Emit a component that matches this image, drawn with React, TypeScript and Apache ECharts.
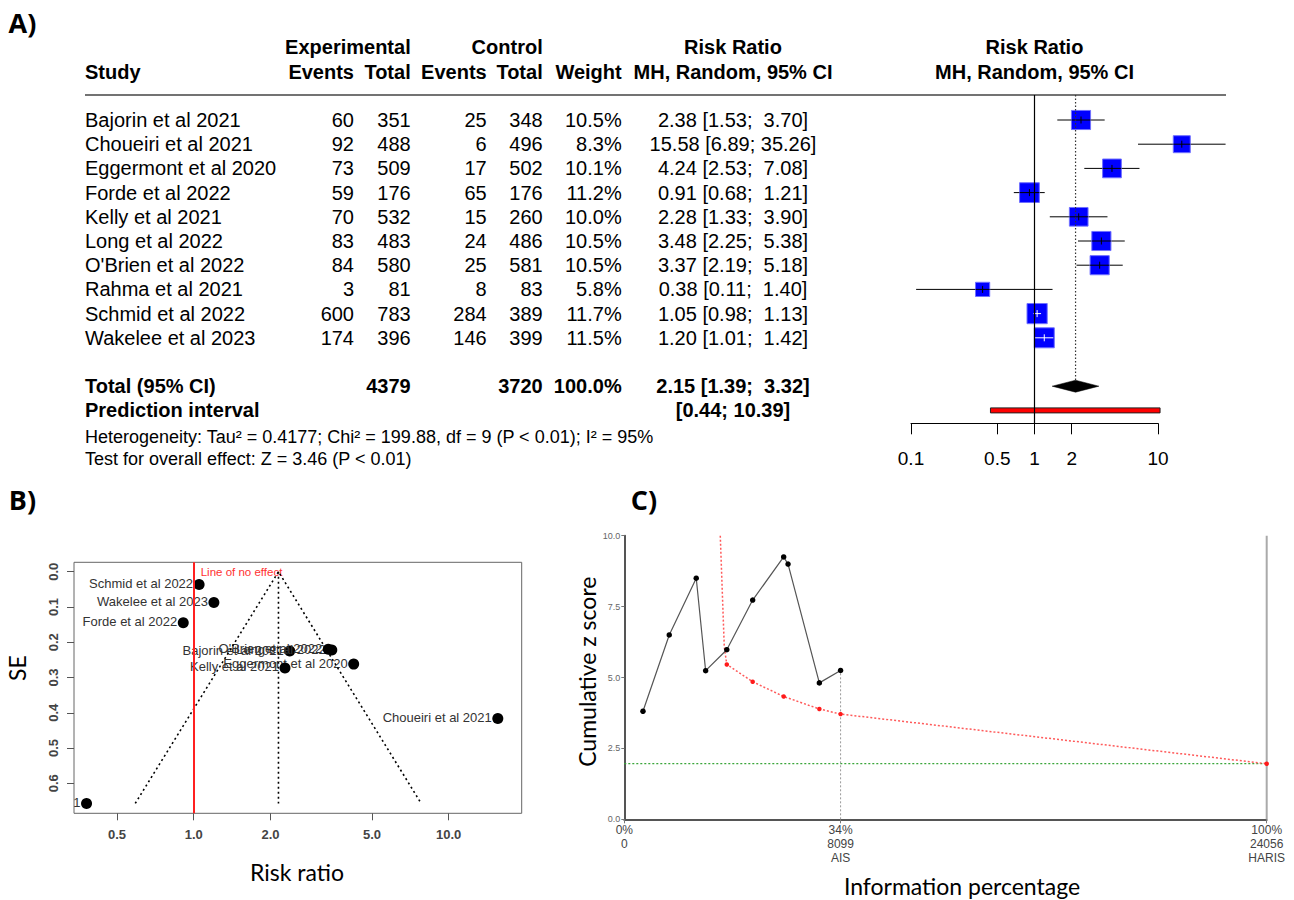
import React, { useEffect, useRef } from "react";
import * as echarts from "echarts";

// ---------- DATA ----------
const studies = [
  "Bajorin et al 2021",
  "Choueiri et al 2021",
  "Eggermont et al 2020",
  "Forde et al 2022",
  "Kelly et al 2021",
  "Long et al 2022",
  "O'Brien et al 2022",
  "Rahma et al 2021",
  "Schmid et al 2022",
  "Wakelee et al 2023",
];
const expEvents = [60, 92, 73, 59, 70, 83, 84, 3, 600, 174];
const expTotal = [351, 488, 509, 176, 532, 483, 580, 81, 783, 396];
const ctrlEvents = [25, 6, 17, 65, 15, 24, 25, 8, 284, 146];
const ctrlTotal = [348, 496, 502, 176, 260, 486, 581, 83, 389, 399];
const weights = [10.5, 8.3, 10.1, 11.2, 10.0, 10.5, 10.5, 5.8, 11.7, 11.5];
const riskRatio = [2.38, 15.58, 4.24, 0.91, 2.28, 3.48, 3.37, 0.38, 1.05, 1.2];
const ciLower = [1.53, 6.89, 2.53, 0.68, 1.33, 2.25, 2.19, 0.11, 0.98, 1.01];
const ciUpper = [3.7, 35.26, 7.08, 1.21, 3.9, 5.38, 5.18, 1.4, 1.13, 1.42];
const totalExp = 4379;
const totalCtrl = 3720;
const pooled = [2.15, 1.39, 3.32]; // RR, lower, upper
const predInterval = [0.44, 10.39];
const heterogeneityText =
  "Heterogeneity: Tau\u00B2 = 0.4177; Chi\u00B2 = 199.88, df = 9 (P < 0.01); I\u00B2 = 95%";
const overallText = "Test for overall effect: Z = 3.46 (P < 0.01)";
const forestTicks = [0.1, 0.5, 1, 2, 10];

// funnel plot (B)
const funnelSE = [0.225, 0.416, 0.262, 0.145, 0.273, 0.222, 0.22, 0.657, 0.036, 0.087];
const funnelXTicks = [0.5, 1, 2, 5, 10];
const funnelYTicks = [0, 0.1, 0.2, 0.3, 0.4, 0.5, 0.6];
const funnelLimitRR = [0.59, 2.15, 7.8]; // lower limit, pooled, upper limit
const funnelLimitSE = [0.657, 0, 0.657];

// trial sequential analysis (C)
const tsaN = [699, 1683, 2694, 3046, 3838, 4807, 5968, 6132, 7304, 8099];
const tsaZ = [3.81, 6.5, 8.5, 5.24, 5.98, 7.73, 9.25, 9.0, 4.81, 5.25];
const boundaryN = [3594, 3744, 3838, 4807, 5968, 7304, 8099, 24056];
const boundaryZ = [10, 6.08, 5.46, 4.85, 4.33, 3.89, 3.71, 1.96];
const boundaryMarked = [false, false, true, true, true, true, true, true];
const conventionalZ = 1.96;
const requiredN = 24056;
const accruedN = 8099;
const tsaXTicks = [0, 8099, 24056];
const tsaXPct = ["0%", "34%", "100%"];
const tsaXName = ["", "AIS", "HARIS"];
const tsaYTicks = [0, 2.5, 5, 7.5, 10];

// ---------- LAYOUT ----------
const RF = "Liberation Sans";
const TF = "Lato";
const lg = (v: number) => Math.log10(v);
const rowY = (i: number) => 120 + 24.2 * i;
const FOREST_YMIN = -25 / 24.2;
const FOREST_YMAX = 328.3 / 24.2 - 25 / 24.2;

const NB = "\u00A0";
const ciText = (r: number, l: number, u: number) =>
  `${r.toFixed(2)} [${l.toFixed(2)}; ${u.toFixed(2).padStart(5, NB)}]`;

function T(
  text: string,
  x: number,
  y: number,
  align: string,
  opt: any = {}
): any {
  return {
    type: "text",
    x,
    y,
    rotation: opt.rotation || 0,
    silent: true,
    style: {
      text,
      align,
      textAlign: align,
      verticalAlign: "middle",
      textVerticalAlign: "middle",
      fontSize: opt.size || 20,
      fontFamily: opt.family || RF,
      fontWeight: opt.bold ? "bold" : "normal",
      fill: opt.color || "#000",
    },
  };
}

function buildGraphics(): any[] {
  const g: any[] = [];
  g.push(T("A)", 22.5, 22.5, "center", { size: 27, bold: true, family: "Open Sans" }));
  g.push(T("B)", 22.5, 499, "center", { size: 27, bold: true, family: "Open Sans" }));
  g.push(T("C)", 644, 499, "center", { size: 27, bold: true, family: "Open Sans" }));

  const h1 = 46.7;
  const h2 = 71.7;
  g.push(T("Experimental", 410.7, h1, "right", { bold: true }));
  g.push(T("Control", 542.7, h1, "right", { bold: true }));
  g.push(T("Risk Ratio", 733, h1, "center", { bold: true }));
  g.push(T("Risk Ratio", 1034.5, h1, "center", { bold: true }));
  g.push(T("Study", 85, h2, "left", { bold: true }));
  g.push(T("Events", 354, h2, "right", { bold: true }));
  g.push(T("Total", 410.7, h2, "right", { bold: true }));
  g.push(T("Events", 486.7, h2, "right", { bold: true }));
  g.push(T("Total", 542.7, h2, "right", { bold: true }));
  g.push(T("Weight", 621.7, h2, "right", { bold: true }));
  g.push(T("MH, Random, 95% CI", 733, h2, "center", { bold: true }));
  g.push(T("MH, Random, 95% CI", 1034.5, h2, "center", { bold: true }));
  g.push({
    type: "line",
    silent: true,
    shape: { x1: 85, y1: 95, x2: 1226, y2: 95 },
    style: { stroke: "#444", lineWidth: 1.5 },
  });

  studies.forEach((s, i) => {
    const y = rowY(i);
    g.push(T(s, 85, y, "left"));
    g.push(T(String(expEvents[i]), 354, y, "right"));
    g.push(T(String(expTotal[i]), 410.7, y, "right"));
    g.push(T(String(ctrlEvents[i]), 486.7, y, "right"));
    g.push(T(String(ctrlTotal[i]), 542.7, y, "right"));
    g.push(T(weights[i].toFixed(1) + "%", 621.7, y, "right"));
    g.push(T(ciText(riskRatio[i], ciLower[i], ciUpper[i]), 733, y, "center"));
  });
  const ty = rowY(11);
  g.push(T("Total (95% CI)", 85, ty, "left", { bold: true }));
  g.push(T(String(totalExp), 410.7, ty, "right", { bold: true }));
  g.push(T(String(totalCtrl), 542.7, ty, "right", { bold: true }));
  g.push(T("100.0%", 621.7, ty, "right", { bold: true }));
  g.push(T(ciText(pooled[0], pooled[1], pooled[2]), 733, ty, "center", { bold: true }));
  const py = rowY(12);
  g.push(T("Prediction interval", 85, py, "left", { bold: true }));
  g.push(
    T(`[${predInterval[0].toFixed(2)}; ${predInterval[1].toFixed(2)}]`, 733, py, "center", {
      bold: true,
    })
  );
  g.push(T(heterogeneityText, 85, 436.7, "left", { size: 18 }));
  g.push(T(overallText, 85, 459.3, "left", { size: 18 }));

  // axis titles for B and C
  g.push(T("SE", 17, 668, "center", { size: 23, family: TF, rotation: Math.PI / 2 }));
  g.push(T("Risk ratio", 297, 872, "center", { size: 23, family: TF }));
  g.push(
    T("Cumulative z score", 586.7, 671.7, "center", { size: 23, family: TF, rotation: Math.PI / 2 })
  );
  g.push(T("Information percentage", 962, 886, "center", { size: 23, family: TF }));
  return g;
}

function buildOption(): any {
  const forestData = studies.map((_, i) => [
    lg(riskRatio[i]),
    i,
    lg(ciLower[i]),
    lg(ciUpper[i]),
    weights[i],
  ]);
  const summaryData = [
    [lg(pooled[0]), 11, lg(pooled[1]), lg(pooled[2]), 12, lg(predInterval[0]), lg(predInterval[1])],
  ];
  const funnelData = studies.map((_, i) => [lg(riskRatio[i]), funnelSE[i], i]);

  return {
    animation: false,
    backgroundColor: "#fff",
    graphic: { elements: buildGraphics() },
    grid: [
      { left: 911, right: 136, top: 95, bottom: 476.7, show: false },
      {
        left: 74,
        right: 772.3,
        top: 562.3,
        bottom: 86.7,
        show: true,
        borderColor: "#666",
        borderWidth: 1,
        backgroundColor: "transparent",
      },
      { left: 624.3, right: 27.3, top: 535.7, bottom: 80.7, show: false },
    ],
    xAxis: [
      {
        gridIndex: 0,
        type: "value",
        position: "bottom",
        min: -1,
        max: 1,
        axisLine: { show: true, onZero: false, lineStyle: { color: "#000", width: 1 } },
        axisTick: {
          show: true,
          customValues: forestTicks.map(lg),
          length: 11,
          lineStyle: { color: "#000", width: 1 },
        },
        axisLabel: {
          customValues: forestTicks.map(lg),
          formatter: (v: number) => String(Number(Math.pow(10, v).toPrecision(3))),
          fontSize: 19,
          fontFamily: RF,
          color: "#000",
          margin: 26,
        },
        splitLine: { show: false },
      },
      {
        gridIndex: 1,
        type: "value",
        position: "bottom",
        min: -0.4694,
        max: 1.2863,
        axisLine: { show: false, onZero: false },
        axisTick: {
          show: true,
          customValues: funnelXTicks.map(lg),
          length: 7,
          lineStyle: { color: "#555" },
        },
        axisLabel: {
          customValues: funnelXTicks.map(lg),
          formatter: (v: number) => Math.pow(10, v).toFixed(1),
          fontSize: 13,
          fontWeight: "bold",
          fontFamily: RF,
          color: "#444",
          margin: 15,
        },
        splitLine: { show: false },
      },
      {
        gridIndex: 2,
        type: "value",
        position: "bottom",
        min: 0,
        max: requiredN,
        axisLine: { show: true, onZero: false, lineStyle: { color: "#555", width: 2 } },
        axisTick: {
          show: true,
          customValues: tsaXTicks,
          length: 4,
          lineStyle: { color: "#777" },
        },
        axisLabel: {
          customValues: tsaXTicks,
          formatter: (v: number) => {
            const i = tsaXTicks.indexOf(v);
            const parts = [tsaXPct[i], String(v)];
            if (tsaXName[i]) parts.push(tsaXName[i]);
            return parts.join("\n");
          },
          fontSize: 12,
          lineHeight: 13.7,
          fontFamily: RF,
          color: "#444",
          margin: 4,
        },
        splitLine: { show: false },
      },
    ],
    yAxis: [
      {
        gridIndex: 0,
        type: "value",
        inverse: true,
        min: FOREST_YMIN,
        max: FOREST_YMAX,
        show: false,
      },
      {
        gridIndex: 1,
        type: "value",
        position: "left",
        inverse: true,
        min: -0.0267,
        max: 0.685,
        axisLine: { show: false, onZero: false },
        axisTick: {
          show: true,
          customValues: funnelYTicks,
          length: 7,
          lineStyle: { color: "#555" },
        },
        axisLabel: {
          customValues: funnelYTicks,
          formatter: (v: number) => v.toFixed(1),
          rotate: 90,
          fontSize: 13,
          fontWeight: "bold",
          fontFamily: RF,
          color: "#444",
          margin: 14,
        },
        splitLine: { show: false },
      },
      {
        gridIndex: 2,
        type: "value",
        position: "left",
        min: 0,
        max: 10,
        interval: 2.5,
        axisLine: { show: true, onZero: false, lineStyle: { color: "#555", width: 2 } },
        axisTick: { show: true, length: 3, lineStyle: { color: "#777" } },
        axisLabel: {
          customValues: tsaYTicks,
          formatter: (v: number) => v.toFixed(1),
          fontSize: 9,
          fontFamily: RF,
          color: "#666",
          margin: 4,
        },
        splitLine: { show: false },
      },
    ],
    series: [
      // ---- A: forest study rows ----
      {
        type: "custom",
        xAxisIndex: 0,
        yAxisIndex: 0,
        clip: false,
        silent: true,
        data: forestData,
        renderItem: (params: any, api: any) => {
          const y = api.value(1);
          const c = api.coord([api.value(0), y]);
          const l = api.coord([api.value(2), y]);
          const u = api.coord([api.value(3), y]);
          const s = 5.9 * Math.sqrt(api.value(4));
          const h = s / 2;
          const inside = l[0] >= c[0] - h - 0.5 && u[0] <= c[0] + h + 0.5;
          const inner = inside ? "#fff" : "#000";
          return {
            type: "group",
            children: [
              {
                type: "line",
                shape: { x1: l[0], y1: c[1], x2: u[0], y2: c[1] },
                style: { stroke: "#000", lineWidth: 1 },
              },
              {
                type: "rect",
                shape: { x: c[0] - h, y: c[1] - h, width: s, height: s },
                style: { fill: "#0000ff", stroke: "#7070ff", lineWidth: 1 },
              },
              {
                type: "line",
                shape: {
                  x1: Math.max(l[0], c[0] - h),
                  y1: c[1],
                  x2: Math.min(u[0], c[0] + h),
                  y2: c[1],
                },
                style: { stroke: inner, lineWidth: 1 },
              },
              {
                type: "line",
                shape: { x1: c[0], y1: c[1] - 3.5, x2: c[0], y2: c[1] + 3.5 },
                style: { stroke: inner, lineWidth: 1 },
              },
            ],
          };
        },
        markLine: {
          silent: true,
          symbol: "none",
          label: { show: false },
          lineStyle: { color: "#000", type: "solid", width: 1.2 },
          data: [{ xAxis: 0 }],
        },
      },
      // ---- A: pooled diamond, prediction interval, dotted pooled line ----
      {
        type: "custom",
        xAxisIndex: 0,
        yAxisIndex: 0,
        clip: false,
        silent: true,
        data: summaryData,
        renderItem: (params: any, api: any) => {
          const r = api.value(1);
          const c = api.coord([api.value(0), r]);
          const l = api.coord([api.value(2), r]);
          const u = api.coord([api.value(3), r]);
          const pr = api.value(4);
          const p1 = api.coord([api.value(5), pr]);
          const p2 = api.coord([api.value(6), pr]);
          const top = api.coord([api.value(0), FOREST_YMIN]);
          return {
            type: "group",
            children: [
              {
                type: "line",
                shape: { x1: c[0], y1: top[1], x2: c[0], y2: c[1] - 6 },
                style: { stroke: "#333", lineWidth: 1.2, lineDash: [1.5, 2] },
              },
              {
                type: "polygon",
                shape: {
                  points: [
                    [l[0], c[1]],
                    [c[0], c[1] - 6],
                    [u[0], c[1]],
                    [c[0], c[1] + 6],
                  ],
                },
                style: { fill: "#000", stroke: "#000", lineWidth: 0.5 },
              },
              {
                type: "rect",
                shape: { x: p1[0], y: p1[1] - 2.5, width: p2[0] - p1[0], height: 5 },
                style: { fill: "#ff0000", stroke: "#222", lineWidth: 1 },
              },
            ],
          };
        },
      },
      // ---- B: funnel limits ----
      {
        type: "line",
        xAxisIndex: 1,
        yAxisIndex: 1,
        silent: true,
        symbol: "none",
        data: funnelLimitRR.map((r, i) => [lg(r), funnelLimitSE[i]]),
        lineStyle: { color: "#000", width: 1.6, type: [2, 3] },
        markLine: {
          silent: true,
          symbol: "none",
          label: { show: false },
          lineStyle: { color: "#ff2020", type: "solid", width: 2 },
          data: [{ xAxis: 0 }],
        },
      },
      {
        type: "line",
        xAxisIndex: 1,
        yAxisIndex: 1,
        silent: true,
        symbol: "none",
        data: [
          [lg(funnelLimitRR[1]), funnelLimitSE[1]],
          [lg(funnelLimitRR[1]), funnelLimitSE[0]],
        ],
        lineStyle: { color: "#000", width: 1.6, type: [2, 3] },
      },
      // ---- B: study points with labels ----
      {
        type: "custom",
        xAxisIndex: 1,
        yAxisIndex: 1,
        clip: true,
        silent: true,
        data: funnelData,
        renderItem: (params: any, api: any) => {
          const c = api.coord([api.value(0), api.value(1)]);
          const name = studies[api.value(2)];
          return {
            type: "group",
            children: [
              {
                type: "circle",
                shape: { cx: c[0], cy: c[1], r: 5.5 },
                style: { fill: "#000" },
              },
              {
                type: "text",
                x: c[0] - 6,
                y: c[1] - 1,
                style: {
                  text: name,
                  align: "right",
                  verticalAlign: "middle",
                  fontSize: 13,
                  fontFamily: RF,
                  fill: "#333",
                },
              },
            ],
          };
        },
      },
      {
        type: "custom",
        xAxisIndex: 1,
        yAxisIndex: 1,
        clip: true,
        silent: true,
        data: [[0, 0]],
        renderItem: (params: any, api: any) => {
          const c = api.coord([api.value(0), api.value(1)]);
          return {
            type: "text",
            x: c[0] + 7,
            y: c[1],
            style: {
              text: "Line of no effect",
              align: "left",
              verticalAlign: "middle",
              fontSize: 11.5,
              fontFamily: RF,
              fill: "#ff3030",
            },
          };
        },
      },
      // ---- C: trial sequential analysis ----
      {
        type: "line",
        xAxisIndex: 2,
        yAxisIndex: 2,
        silent: true,
        symbol: "none",
        data: [
          [0, conventionalZ],
          [requiredN, conventionalZ],
        ],
        lineStyle: { color: "#3aa63a", width: 1.3, type: [2, 2] },
      },
      {
        type: "line",
        xAxisIndex: 2,
        yAxisIndex: 2,
        silent: true,
        symbol: "none",
        data: [
          [requiredN, 0],
          [requiredN, 10],
        ],
        lineStyle: { color: "#aaa", width: 2 },
      },
      {
        type: "line",
        xAxisIndex: 2,
        yAxisIndex: 2,
        silent: true,
        symbol: "none",
        data: [
          [accruedN, 0],
          [accruedN, tsaZ[tsaZ.length - 1]],
        ],
        lineStyle: { color: "#999", width: 1, type: [2, 2] },
      },
      {
        type: "line",
        xAxisIndex: 2,
        yAxisIndex: 2,
        silent: true,
        data: boundaryN.map((n, i) => ({
          value: [n, boundaryZ[i]],
          symbol: boundaryMarked[i] ? "circle" : "none",
        })),
        symbolSize: 4.5,
        itemStyle: { color: "#ff1a1a" },
        lineStyle: { color: "#ff5a5a", width: 1.5, type: [2, 2] },
      },
      {
        type: "line",
        xAxisIndex: 2,
        yAxisIndex: 2,
        silent: true,
        data: tsaN.map((n, i) => [n, tsaZ[i]]),
        symbol: "circle",
        symbolSize: 5.5,
        itemStyle: { color: "#000" },
        lineStyle: { color: "#555", width: 1.2 },
      },
    ],
  };
}

export default function App() {
  const ref = useRef<HTMLDivElement>(null);
  useEffect(() => {
    if (!ref.current) return;
    const chart = echarts.init(ref.current, null, { renderer: "svg" });
    chart.setOption(buildOption());
    return () => chart.dispose();
  }, []);
  return (
    <div
      ref={ref}
      style={{
        position: "absolute",
        left: 0,
        top: 0,
        width: 1294,
        height: 900,
        background: "#fff",
      }}
    />
  );
}
